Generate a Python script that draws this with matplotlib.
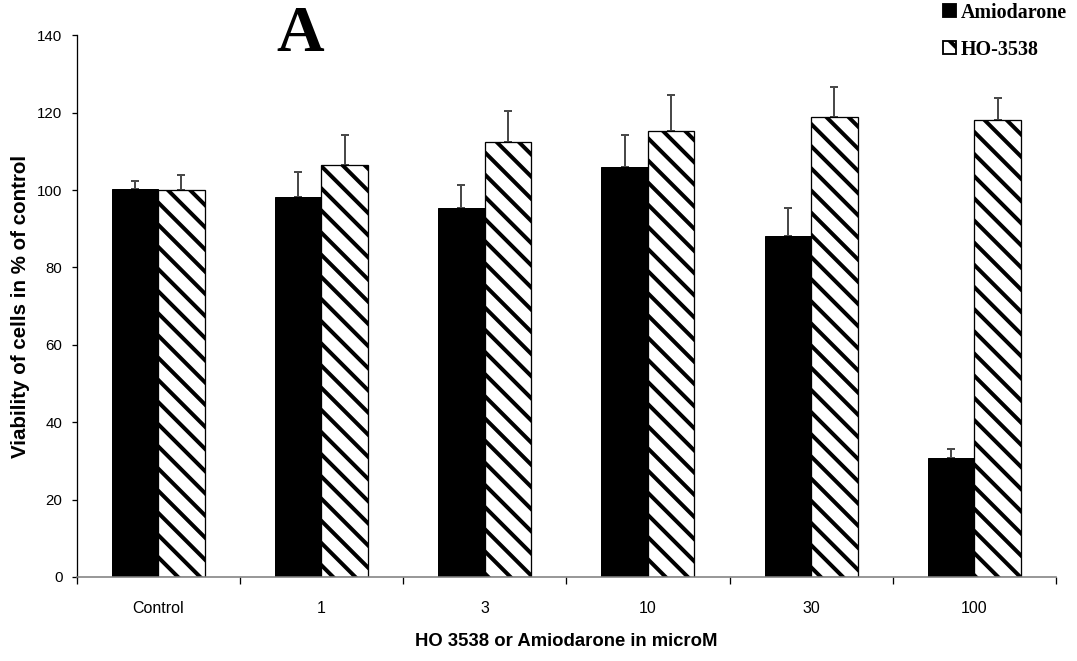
import matplotlib
matplotlib.use("Agg")
import matplotlib.pyplot as plt
import numpy as np
from matplotlib.patches import Patch

categories = ["Control", "1", "3", "10", "30", "100"]
amiodarone = [100.3, 98.3, 95.4, 106.0, 88.1, 30.8]
amiodarone_err = [2.0, 6.4, 5.9, 8.3, 7.2, 2.4]
ho3538 = [100.0, 106.6, 112.5, 115.3, 118.9, 118.1]
ho3538_err = [4.0, 7.6, 8.0, 9.4, 7.7, 5.7]
yticks = [0, 20, 40, 60, 80, 100, 120, 140]

DPI = 133
W, H = 1077, 661


def pt(px):
    return px * 72.0 / DPI


plt.rcParams['hatch.linewidth'] = pt(4.0)
plt.rcParams['hatch.color'] = 'black'

sans = ['Liberation Sans', 'DejaVu Sans']
serif = ['Liberation Serif', 'DejaVu Serif']

fig = plt.figure(figsize=(W / DPI, H / DPI), dpi=DPI)
left, right = 76.5 / W, 1056 / W
bottom, top = (H - 577) / H, (H - 35.3) / H
ax = fig.add_axes([left, bottom, right - left, top - bottom])

x = np.arange(len(categories))
w = 0.285
ax.bar(x - w/2, amiodarone, w, color='black', edgecolor='black',
       linewidth=pt(1), zorder=2)
ax.bar(x + w/2, ho3538, w, color='white', edgecolor='black',
       linewidth=pt(1.3), hatch='\\\\', zorder=2)
ax.errorbar(x - w/2, amiodarone, yerr=[np.zeros(len(x)), amiodarone_err],
            fmt='none', ecolor='#4a4a4a', elinewidth=pt(2), capsize=pt(4),
            capthick=pt(2), zorder=1)
ax.errorbar(x + w/2, ho3538, yerr=[np.zeros(len(x)), ho3538_err],
            fmt='none', ecolor='#4a4a4a', elinewidth=pt(2), capsize=pt(4),
            capthick=pt(2), zorder=1)

ax.set_xlim(-0.5, len(categories) - 0.5)
ax.set_ylim(0, 140)
ax.set_yticks(yticks)
ax.set_yticklabels([str(t) for t in yticks], family=sans, fontsize=pt(15))
ax.set_xticks(x)
ax.set_xticklabels(categories, family=sans, fontsize=pt(16))
ax.tick_params(axis='x', which='major', length=0, pad=pt(24))
ax.set_xticks(np.arange(-0.5, len(categories)), minor=True)
ax.tick_params(axis='x', which='minor', length=pt(7), color='black', width=pt(1.3))
ax.tick_params(axis='y', length=pt(5), width=pt(1.3), direction='out', pad=pt(9))

for s in ['top', 'right']:
    ax.spines[s].set_visible(False)
ax.spines['bottom'].set_color('#808080')
ax.spines['bottom'].set_linewidth(pt(1.6))
ax.spines['left'].set_linewidth(pt(1.3))

ax.set_ylabel("Viability of cells in % of control", family=sans, fontweight='bold',
              fontsize=pt(20.5), labelpad=pt(7))
ax.set_xlabel("HO 3538 or Amiodarone in microM", family=sans, fontweight='bold',
              fontsize=pt(18.5), labelpad=pt(17))

fig.text(300 / W, 1 - 35 / H, "A", family=serif, fontweight='bold', fontsize=pt(66),
         ha='center', va='center')

handles = [Patch(facecolor='black', edgecolor='black'),
           Patch(facecolor='white', edgecolor='black', hatch='\\\\')]
leg = fig.legend(handles, ["Amiodarone", "HO-3538"], loc='upper right',
                 bbox_to_anchor=(1067 / W, 1 - 3 / H), frameon=False,
                 borderpad=0, borderaxespad=0,
                 prop={'family': serif, 'weight': 'bold', 'size': pt(20)},
                 handlelength=0.62, handleheight=0.62, handletextpad=0.25,
                 labelspacing=0.85)

fig.savefig("out.png", dpi=DPI)
